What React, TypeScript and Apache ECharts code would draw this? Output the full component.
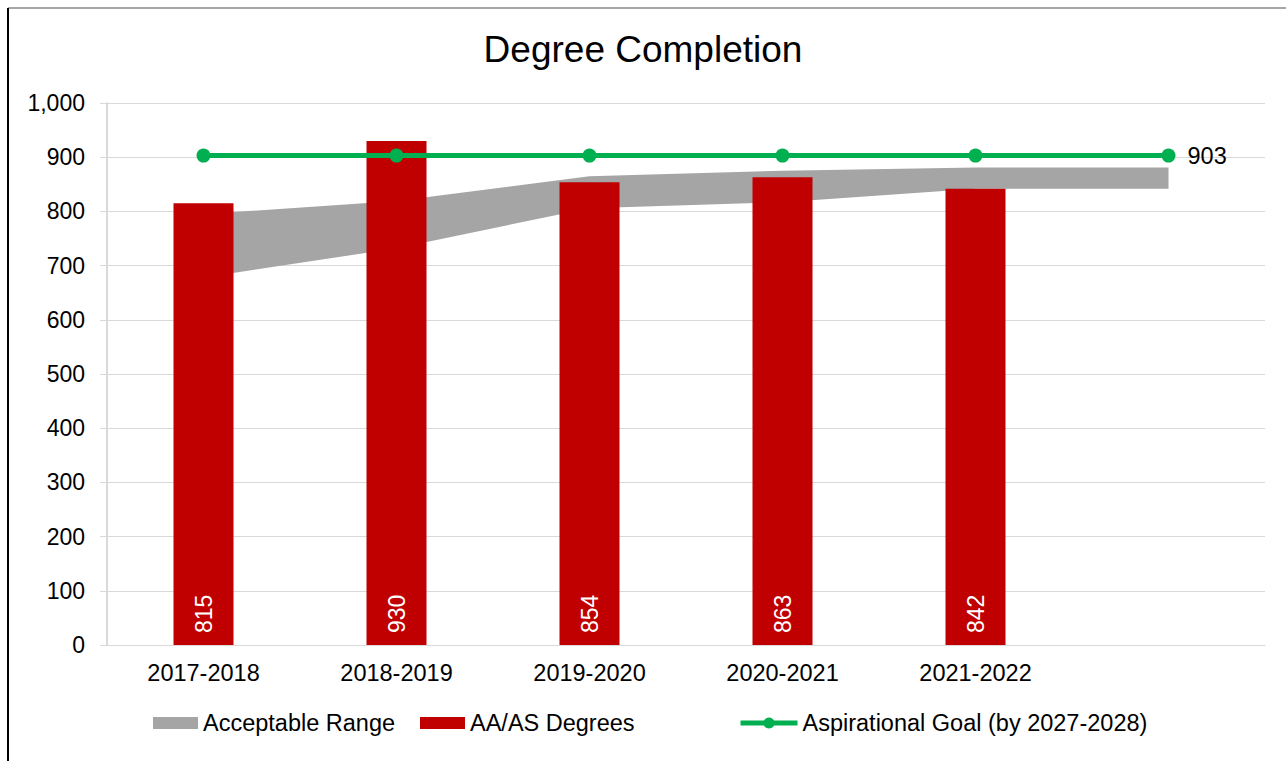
import React, { useEffect, useRef } from "react";
import * as echarts from "echarts";

const categories = ["2017-2018", "2018-2019", "2019-2020", "2020-2021", "2021-2022", ""];
const degrees = [815, 930, 854, 863, 842, null];
const rangeLower = [678, 732, 806, 817, 842, 842];
const rangeUpper = [795, 819, 865, 875, 881, 881];
const goal = [903, 903, 903, 903, 903, 903];

const FONT = "Liberation Sans, Arial, sans-serif";

export default function App() {
  const ref = useRef<HTMLDivElement>(null);
  useEffect(() => {
    if (!ref.current) return;
    const chart = echarts.init(ref.current, undefined, { renderer: "svg" });
    const bandWidth = rangeUpper.map((u, i) => u - rangeLower[i]);
    const legendText = { fontFamily: FONT, fontSize: 23.5, color: "#000" };
    chart.setOption({
      animation: false,
      backgroundColor: "#ffffff",
      textStyle: { fontFamily: FONT },
      title: {
        text: "Degree Completion",
        left: "center",
        top: 26,
        textStyle: { fontFamily: FONT, fontSize: 37, fontWeight: "normal", color: "#000" },
      },
      graphic: [
        { type: "line", shape: { x1: 8, y1: 8, x2: 1286, y2: 8 }, style: { stroke: "#a6a6a6", lineWidth: 2 } },
        { type: "line", shape: { x1: 8, y1: 8, x2: 8, y2: 761 }, style: { stroke: "#000", lineWidth: 2 } },
      ],
      legend: [
        {
          left: 153,
          top: 711,
          padding: 0,
          itemWidth: 45,
          itemHeight: 12,
          textStyle: legendText,
          data: [{ name: "Acceptable Range", icon: "rect" }],
        },
        {
          left: 420,
          top: 711,
          padding: 0,
          itemWidth: 45,
          itemHeight: 12,
          textStyle: legendText,
          data: [{ name: "AA/AS Degrees", icon: "rect" }],
        },
        {
          left: 738,
          top: 711,
          padding: 0,
          itemWidth: 57,
          itemHeight: 14,
          textStyle: legendText,
          data: [
            {
              name: "Aspirational Goal (by 2027-2028)",
              lineStyle: { width: 5, color: "#00b050" },
            },
          ],
        },
      ],
      grid: { left: 107, right: 21, top: 103, bottom: 116 },
      xAxis: {
        type: "category",
        data: categories,
        boundaryGap: true,
        axisLine: { show: true, lineStyle: { color: "#d9d9d9", width: 1 } },
        axisTick: { show: false },
        axisLabel: { fontFamily: FONT, fontSize: 23.5, color: "#000", margin: 16 },
      },
      yAxis: {
        type: "value",
        min: 0,
        max: 1000,
        interval: 100,
        axisLine: { show: true, lineStyle: { color: "#d9d9d9", width: 2 } },
        axisTick: { show: true, length: 7, lineStyle: { color: "#d9d9d9" } },
        axisLabel: {
          fontFamily: FONT,
          fontSize: 23,
          color: "#000",
          margin: 22,
          formatter: (v: number) => v.toLocaleString("en-US"),
        },
        splitLine: { lineStyle: { color: "#d9d9d9", width: 1 } },
      },
      series: [
        {
          name: "rangeBase",
          type: "line",
          stack: "range",
          data: rangeLower,
          symbol: "none",
          lineStyle: { opacity: 0 },
          areaStyle: { opacity: 0 },
          silent: true,
          z: 1,
        },
        {
          name: "Acceptable Range",
          type: "line",
          stack: "range",
          data: bandWidth,
          symbol: "none",
          itemStyle: { color: "#a5a5a5" },
          lineStyle: { opacity: 0, width: 0 },
          areaStyle: { color: "#a5a5a5", opacity: 1 },
          z: 1,
        },
        {
          name: "AA/AS Degrees",
          type: "bar",
          data: degrees,
          barWidth: 60,
          itemStyle: { color: "#c00000" },
          label: {
            show: true,
            position: "insideBottom",
            rotate: 90,
            align: "left",
            verticalAlign: "middle",
            distance: 12,
            color: "#fff",
            fontFamily: FONT,
            fontSize: 23,
          },
          z: 2,
        },
        {
          name: "Aspirational Goal (by 2027-2028)",
          type: "line",
          data: goal,
          symbol: "circle",
          symbolSize: 14,
          itemStyle: { color: "#00b050" },
          lineStyle: { color: "#00b050", width: 5 },
          label: {
            show: true,
            position: "right",
            distance: 12,
            color: "#000",
            fontFamily: FONT,
            fontSize: 23.5,
            formatter: (p: any) => (p.dataIndex === goal.length - 1 ? String(p.value) : ""),
          },
          z: 3,
        },
      ],
    });
    return () => chart.dispose();
  }, []);
  return <div ref={ref} style={{ position: "fixed", left: 0, top: 0, width: 1286, height: 761 }} />;
}
